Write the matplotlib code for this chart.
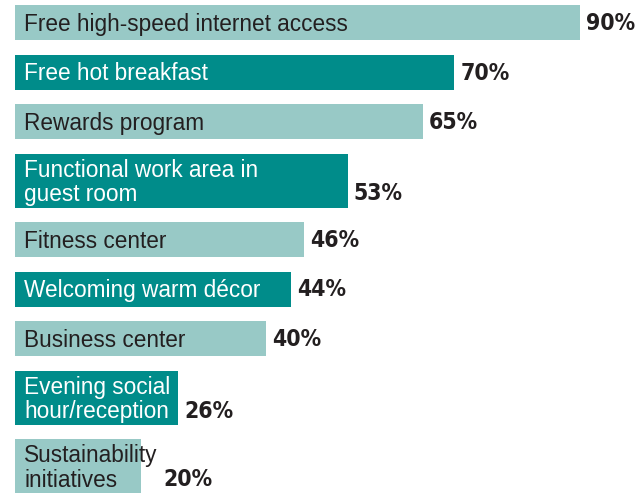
import matplotlib
matplotlib.use('Agg')
import matplotlib.pyplot as plt

# Hotel amenities rated important by guests
amenities = [
    'Free high-speed internet access',
    'Free hot breakfast',
    'Rewards program',
    'Functional work area in\nguest room',
    'Fitness center',
    'Welcoming warm décor',
    'Business center',
    'Evening social\nhour/reception',
    'Sustainability\ninitiatives',
]
share = [90, 70, 65, 53, 46, 44, 40, 26, 20]

LIGHT = '#98c9c6'
DARK = '#008c8a'
INK = '#231f20'

W, H = 643, 500
fig = plt.figure(figsize=(W / 100, H / 100), dpi=100)
ax = fig.add_axes([0, 0, 1, 1])

# x in percent, y in pixel rows from the top
px_per_pct = (580 - 15) / 90
ax.set_xlim(-15 / px_per_pct, (W - 15) / px_per_pct)
ax.set_ylim(H, 0)
ax.axis('off')

one_line = 35
extra_line = 19
gap = 14.5
line_px = 25

renderer = fig.canvas.get_renderer()
inv = ax.transData.inverted()

top = 5
for i, (name, val) in enumerate(zip(amenities, share)):
    n = name.count('\n') + 1
    h = one_line + extra_line * (n - 1)
    yc = top + h / 2
    dark = i % 2 == 1
    ax.barh(yc, val, height=h, left=0, color=DARK if dark else LIGHT)
    lab = ax.annotate(name, (0, yc), xytext=(9, -2), textcoords='offset pixels',
                      ha='left', va='center', fontsize=16.3, linespacing=1.08,
                      family='Liberation Sans',
                      color='white' if dark else INK)
    # keep the percentage clear of a label that runs past its bar
    text_end = inv.transform((lab.get_window_extent(renderer).x1, 0))[0]
    ax.annotate('%d%%' % val, (max(val, text_end), yc + (n - 1) * line_px / 2),
                xytext=(6, -1), textcoords='offset pixels',
                ha='left', va='center', fontsize=16.5, fontweight='bold',
                fontstretch='condensed', family='DejaVu Sans', color=INK)
    top += h + gap

fig.savefig('out.png', dpi=100)
